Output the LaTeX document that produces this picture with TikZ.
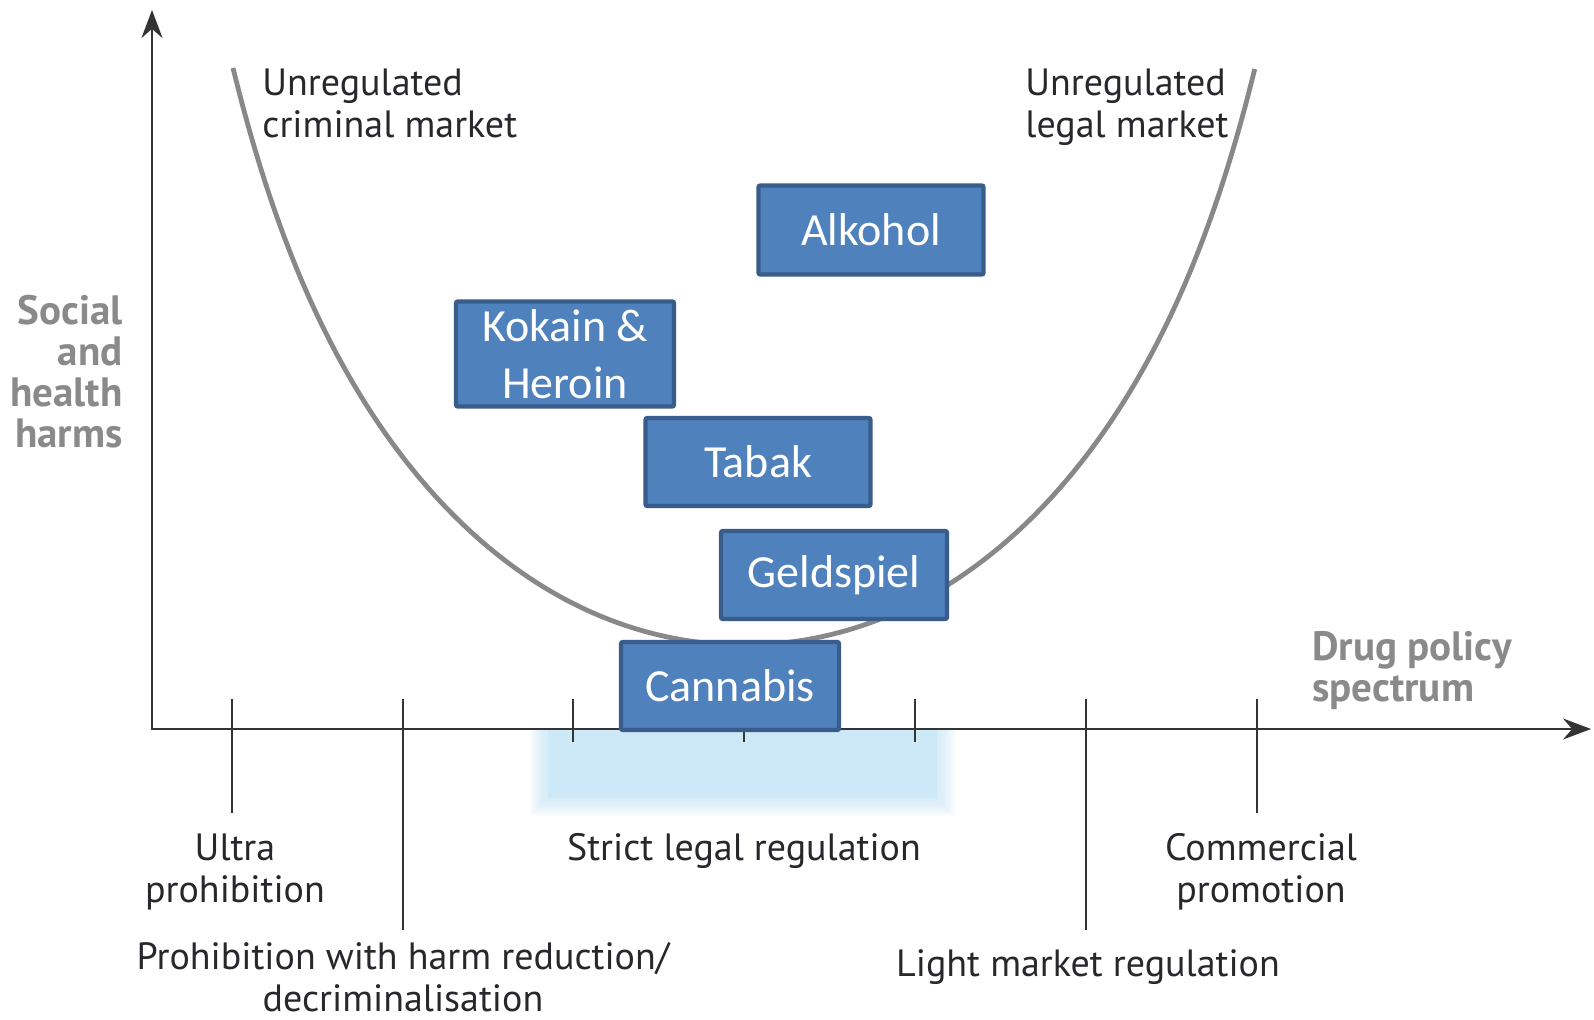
\documentclass[tikz,border=0pt]{standalone}
\usepackage{fontspec}
\usepackage{xcolor}
\usepackage{tikz}
\usetikzlibrary{arrows.meta}

\newfontfamily\labelfont{PT Sans}
\newfontfamily\boxfont{Carlito}
\definecolor{boxfill}{RGB}{79,129,189}
\definecolor{boxedge}{RGB}{56,93,138}
\definecolor{axisgray}{RGB}{52,52,52}
\definecolor{textgray}{RGB}{40,40,44}
\definecolor{curvegray}{RGB}{136,136,136}
\definecolor{titlegray}{RGB}{138,138,138}
\definecolor{band}{RGB}{205,233,247}

\begin{document}
\begin{tikzpicture}[x=0.5pt,y=-0.5pt,
  axis/.style={draw=axisgray,line width=1.2pt},
  tick/.style={draw=axisgray,line width=0.8pt},
  curve/.style={draw=curvegray,line width=2.4pt},
  drug/.style={draw=boxedge,fill=boxfill,line width=2.2pt,rounded corners=1pt,
    text=white,inner sep=0pt,align=center,font=\boxfont\fontsize{23}{28.5}\selectfont},
  market/.style={text=textgray,align=left,inner sep=0pt,font=\labelfont\fontsize{19}{21}\selectfont},
  policy/.style={text=textgray,align=center,inner sep=0pt,font=\labelfont\fontsize{19}{21}\selectfont},
  dimension/.style={text=titlegray,inner sep=0pt,font=\labelfont\bfseries\fontsize{20.5}{20.5}\selectfont}]
\useasboundingbox [fill=white] (0,0) rectangle (1594,1020);

% strict regulation band, soft edges
\fill [band] (548,730) rectangle (937,798);
\foreach \d in {2,4,...,18}
  \fill [band,opacity=.13] (548-\d,730) rectangle (937+\d,798+\d);

% axes
\coordinate (ytip) at (152,10);
\coordinate (origin) at (152,729);
\coordinate (xtip) at (1591,729);
\draw [axis] [{Stealth[length=14pt,width=10.5pt]}-{Stealth[length=14pt,width=10.5pt]}] (ytip) -- (origin) -- (xtip);

\foreach \x/\b in {232/813,403/930,573/742,744/742,915/742,1086/930,1257/813}
  \draw [tick] (\x,699) -- (\x,\b);

% the U curve
\draw [curve] plot [domain=-1:1,samples=121,smooth]
  ({744+511*\x},{645-355.5*\x*\x-140.5*\x*\x*\x*\x-81*(\x*\x)^5});

% substances
\node [drug,minimum width=112.5pt,minimum height=44.5pt] (alkohol) at (871,230) {Alkohol};
\node [drug,minimum width=109pt,minimum height=52.5pt] (kokain) at (565,354) {Kokain \&\\Heroin};
\node [drug,minimum width=112.5pt,minimum height=44pt] (tabak) at (758,462) {Tabak};
\node [drug,minimum width=113pt,minimum height=44pt] (geldspiel) at (834,575) {Geldspiel};
\node [drug,minimum width=109pt,minimum height=44pt] (cannabis) at (730,686) {Cannabis};

% texts
\node [market,anchor=base west] (criminal) at (262,138) {Unregulated\\criminal market};
\node [market,anchor=base west] (legal) at (1025,138) {Unregulated\\legal market};
\node [dimension,align=right,anchor=east] (harms) at (123,372) {Social\\and\\health\\harms};
\node [dimension,align=left,anchor=west] (spectrum) at (1312,671) {Drug policy\\spectrum};

\node [policy] (ultra) at (235,872) {Ultra\\prohibition};
\node [policy] (strict) at (744,851) {Strict legal regulation};
\node [policy] (commercial) at (1261,872) {Commercial\\promotion};
\node [policy] (harmred) at (403,977) {Prohibition with harm reduction/\\decriminalisation};
\node [policy] (light) at (1088,967) {Light market regulation};
\end{tikzpicture}
\end{document}
